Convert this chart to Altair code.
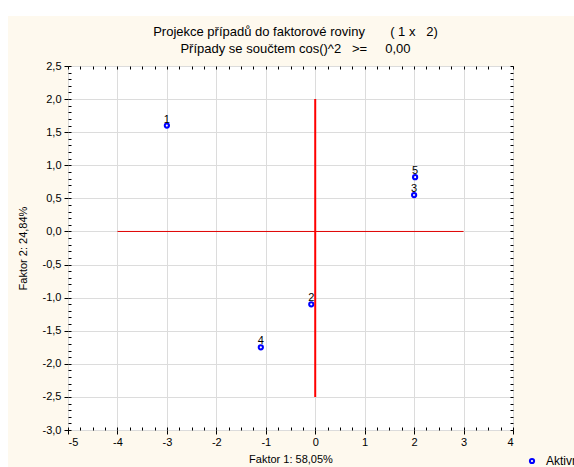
import altair as alt
import pandas as pd

# Case coordinates in the factor plane (factor 1 x factor 2)
case_ids = ["1", "2", "3", "4", "5"]
factor1 = [-3.0, -0.08, 2.0, -1.1, 2.02]
factor2 = [1.6, -1.1, 0.55, -1.75, 0.82]
group = ["Aktivní"] * 5

# Axis ticks
x_major = [-5, -4, -3, -2, -1, 0, 1, 2, 3, 4]
y_major = [-3.0, -2.5, -2.0, -1.5, -1.0, -0.5, 0.0, 0.5, 1.0, 1.5, 2.0, 2.5]
x_minor = [-5 + 0.25 * i for i in range(37)]
y_minor = [round(-3 + 0.1 * i, 2) for i in range(56)]

# Reference cross lines through the origin
h_line_x = [-4, 3]
h_line_y = 0
v_line_x = 0
v_line_y = [2, -2.5]

FONT = "Liberation Sans"
PLOT_W, PLOT_H = 445, 364
PAD_L, PAD_T = 68, 66
NB = "\u00a0"

points = pd.DataFrame({"id": case_ids, "f1": factor1, "f2": factor2, "grp": group})
hline = pd.DataFrame({"x": [h_line_x[0]], "x2": [h_line_x[1]], "y": [h_line_y]})
vline = pd.DataFrame({"x": [v_line_x], "y": [v_line_y[0]], "y2": [v_line_y[1]]})
one = pd.DataFrame({"k": [0]})

xs = alt.Scale(domain=[-5, 4], nice=False, zero=False)
ys = alt.Scale(domain=[-3, 2.5], nice=False, zero=False)

x_lbl = "replace(format(datum.value, 'd'), '\u2212', '-')"
y_lbl = "replace(replace(format(datum.value, '.1f'), '.', ','), '\u2212', '-')"

def minor_axis(orient, values):
    return alt.Axis(orient=orient, values=values, labels=False, domain=False, grid=False,
                    ticks=True, tickSize=3, offset=-3, tickColor="#000000", title=None)

# white margin strips on top and left edges of the canvas
strip_top = alt.Chart(one).mark_rect(color="white").encode(
    x=alt.value(-PAD_L), x2=alt.value(574 - PAD_L), y=alt.value(-PAD_T), y2=alt.value(16 - PAD_T))
strip_left = alt.Chart(one).mark_rect(color="white").encode(
    x=alt.value(-PAD_L), x2=alt.value(8 - PAD_L), y=alt.value(-PAD_T), y2=alt.value(467 - PAD_T))

pts = alt.Chart(points).mark_point(shape="circle", filled=False, size=18, strokeWidth=2, opacity=1).encode(
    x=alt.X("f1:Q", scale=xs, axis=alt.Axis(values=x_major, labelExpr=x_lbl, title="Faktor 1: 58,05%",
                                             grid=True, gridColor="#DCDCDC", tickSize=4, domain=False,
                                             tickColor="#000000", labelPadding=2, titlePadding=6)),
    y=alt.Y("f2:Q", scale=ys, axis=alt.Axis(values=y_major, labelExpr=y_lbl, title="Faktor 2: 24,84%",
                                             grid=True, gridColor="#DCDCDC", tickSize=4, domain=False,
                                             tickColor="#000000", labelPadding=3, titlePadding=14)),
    color=alt.Color("grp:N", scale=alt.Scale(domain=["Aktivní"], range=["#0000FF"]),
                    legend=alt.Legend(orient="none", legendX=458, legendY=389, title=None,
                                      symbolType="circle", symbolSize=18, symbolStrokeWidth=2,
                                      labelFont=FONT, labelFontSize=12, labelColor="#000000",
                                      labelOffset=8, padding=0, labelLimit=200)),
)

labels = alt.Chart(points).mark_text(font=FONT, fontSize=11, color="#000000", baseline="bottom", dy=-1).encode(
    x=alt.X("f1:Q", scale=xs, axis=minor_axis("top", x_minor)),
    y=alt.Y("f2:Q", scale=ys, axis=minor_axis("right", y_minor)),
    text="id:N",
)

hrule = alt.Chart(hline).mark_rule(color="#E00000", strokeWidth=1).encode(
    x=alt.X("x:Q", scale=xs, axis=minor_axis("bottom", x_minor)),
    x2="x2:Q",
    y=alt.Y("y:Q", scale=ys, axis=None),
)

vrule = alt.Chart(vline).mark_rule(color="#FF0000", strokeWidth=2).encode(
    x=alt.X("x:Q", scale=xs, axis=None),
    y=alt.Y("y:Q", scale=ys, axis=minor_axis("left", y_minor)),
    y2="y2:Q",
)

title_lines = [
    "Projekce případů do faktorové roviny" + NB * 7 + "(" + NB + "1" + NB + "x" + NB * 3 + "2)",
    "Případy se součtem cos()^2" + NB * 3 + ">=" + NB * 5 + "0,00",
]

chart = alt.layer(strip_top, strip_left, pts, hrule, vrule, labels).resolve_axis(
    x="independent", y="independent"
).properties(
    width=PLOT_W, height=PLOT_H,
    padding={"left": PAD_L, "top": PAD_T, "right": 574 - PAD_L - PLOT_W, "bottom": 467 - PAD_T - PLOT_H},
    autosize=alt.AutoSizeParams(type="none"),
    title=alt.TitleParams(
        text=title_lines,
        font=FONT, fontSize=13, fontWeight="normal", color="#000000", anchor="middle",
        lineHeight=17, offset=-56, dx=5, frame="group",
    ),
).configure(background="#FEF9EE").configure_view(
    fill="white", stroke="#000000", strokeWidth=1
).configure_axis(
    labelFont=FONT, labelFontSize=11, labelColor="#000000",
    titleFont=FONT, titleFontSize=11, titleFontWeight="normal", titleColor="#000000",
)

chart.save("out.html", embed_options={"renderer": "svg", "actions": False})
